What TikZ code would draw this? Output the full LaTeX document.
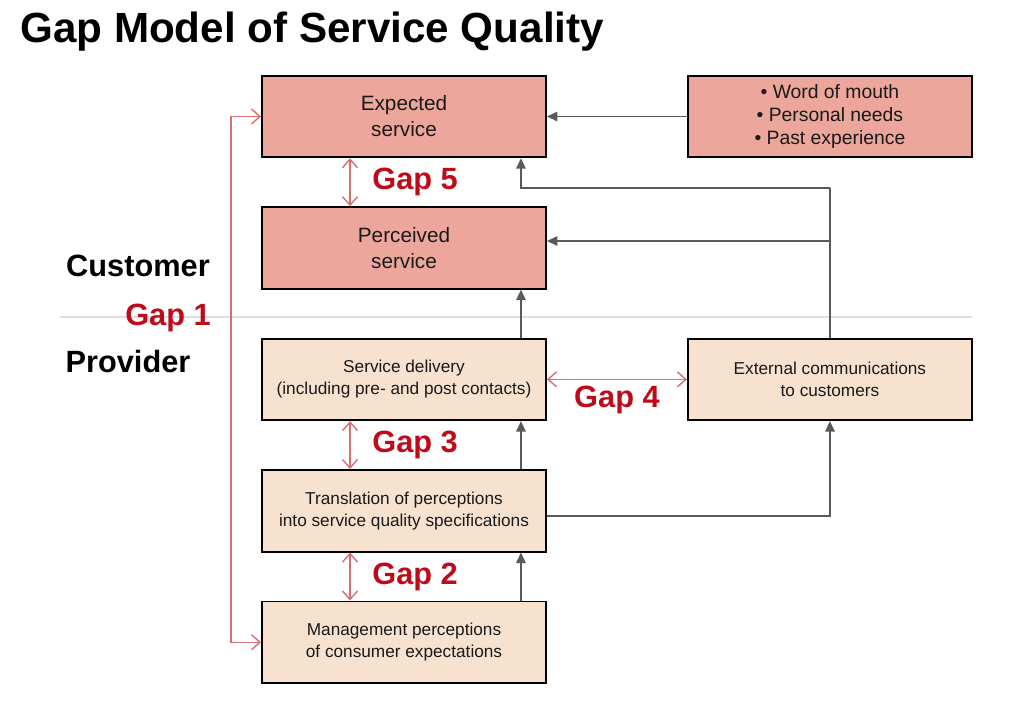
\documentclass[tikz,border=0pt]{standalone}
\usepackage{fontspec}
\setmainfont{Liberation Sans}
\usetikzlibrary{arrows.meta,positioning}

\definecolor{custfill}{RGB}{236,166,156}
\definecolor{provfill}{RGB}{247,226,208}
\definecolor{gapred}{RGB}{190,10,25}
\definecolor{gapline}{RGB}{214,112,112}
\definecolor{flowgray}{RGB}{90,90,90}

\begin{document}
\begin{tikzpicture}[
    > = {Triangle[length=2.1mm,width=1.9mm]}, % arrow head style
    node distance = 0.96cm and 2.8cm, % distance between boxes
    semithick % line style
    ]

    \tikzset{box/.style={
    draw = black,
    line width = 1.1pt,
    minimum width = 5.68cm,
    minimum height = 1.63cm,
    align = center,
    text = black!90
    }}
    \tikzset{custbox/.style={box, fill=custfill, font=\fontsize{11.8}{14.7}\selectfont}}
    \tikzset{provbox/.style={box, fill=provfill, font=\fontsize{9.8}{12.5}\selectfont}}
    \tikzset{flow/.style={->, draw=flowgray, line width=0.9pt}}
    \tikzset{gap/.style={
    {Straight Barb[length=1.7mm,width=3mm]}-{Straight Barb[length=1.7mm,width=3mm]},
    draw = gapline,
    line width = 0.8pt
    }}
    \tikzset{gaplabel/.style={text=gapred, font=\fontsize{17.5}{20}\selectfont\bfseries}}
    \tikzset{side/.style={font=\fontsize{17.5}{20}\selectfont\bfseries}}

    \useasboundingbox (0,0) rectangle (20.38,-14.06);

    \node[anchor=base west, font=\fontsize{24}{28}\selectfont\bfseries] (title) at (0.28,-0.86) {Gap Model of Service Quality};

    % customer / provider split
    \draw[gray!25, line width=0.8pt] (1.2,-6.34) -- (19.44,-6.34);
    \node[side] (customer) at (2.76,-5.32) {Customer};
    \node[side, text=gapred] (gap1) at (3.36,-6.36) {Gap 1};
    \node[side] (provider) at (2.56,-7.24) {Provider};

    \node[custbox] (expected) at (8.08,-2.33) {Expected\\service};
    \node[custbox, font=\fontsize{11}{13.3}\selectfont] (sources) [right=of expected] {• Word of mouth\\• Personal needs\\• Past experience};
    \node[custbox] (perceived) [below=of expected] {Perceived\\service};
    \node[provbox] (delivery) [below=of perceived] {Service delivery\\(including pre- and post contacts)};
    \node[provbox] (external) [right=of delivery] {External communications\\to customers};
    \node[provbox] (translation) [below=of delivery] {Translation of perceptions\\into service quality specifications};
    \node[provbox] (management) [below=of translation] {Management perceptions\\of consumer expectations};

    \coordinate (split) at (16.6,-3.76);
    \coordinate (branch) at (16.6,-4.82);

    % gaps
    \draw[gap] ([xshift=-1.08cm]expected.south) -- node[gaplabel, right=9pt]{Gap 5} ([xshift=-1.08cm]perceived.north);
    \draw[gap] ([xshift=-1.08cm]delivery.south) -- node[gaplabel, right=9pt]{Gap 3} ([xshift=-1.08cm]translation.north);
    \draw[gap] ([xshift=-1.08cm]translation.south) -- node[gaplabel, right=9pt]{Gap 2} ([xshift=-1.08cm]management.north);
    \draw[gap] (delivery.east) -- node[gaplabel, below]{Gap 4} (external.west);
    \draw[gap] (expected.west) -- ++(-0.6,0) |- (management.west);

    % flows
    \draw[flow] (sources) -- (expected);
    \draw[flow] ([xshift=-0.52cm]delivery.north east) -- ([xshift=-0.52cm]perceived.south east);
    \draw[flow] ([xshift=-0.52cm]translation.north east) -- ([xshift=-0.52cm]delivery.south east);
    \draw[flow] ([xshift=-0.52cm]management.north east) -- ([xshift=-0.52cm]translation.south east);
    \draw[flow] (external.north) |- (split) -| ([xshift=-0.52cm]expected.south east);
    \draw[flow] (branch -| external.north) -- (branch -| perceived.east);
    \draw[flow] ([yshift=-0.1cm]translation.east) -| (external.south);
\end{tikzpicture}
\end{document}
